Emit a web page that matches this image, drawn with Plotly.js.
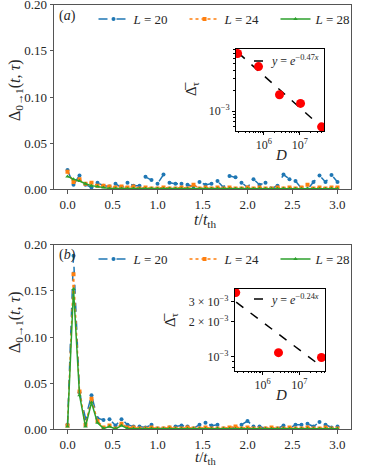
<!DOCTYPE html>
<html>
<head>
<meta charset="utf-8">
<script src="https://cdn.plot.ly/plotly-3.0.1.min.js"></script>
<style>
  html, body { margin: 0; padding: 0; background: white; }
  #plot { width: 374px; height: 467px; }
</style>
</head>
<body>
<div id="plot"></div>
<script>
// время t/t_th (шаг 1/15)
const t = [0, 0.0667, 0.1333, 0.2, 0.2667, 0.3333, 0.4, 0.4667, 0.5333, 0.6,
  0.6667, 0.7333, 0.8, 0.8667, 0.9333, 1.0, 1.0667, 1.1333, 1.2, 1.2667,
  1.3333, 1.4, 1.4667, 1.5333, 1.6, 1.6667, 1.7333, 1.8, 1.8667, 1.9333,
  2.0, 2.0667, 2.1333, 2.2, 2.2667, 2.3333, 2.4, 2.4667, 2.5333, 2.6,
  2.6667, 2.7333, 2.8, 2.8667, 2.9333, 3.0];

// панель (a)
const a_L20 = [0.021, 0.005, 0.015, 0.005, 0.002, 0.007, 0.004, 0.003, 0.006, 0.002,
  0.007, 0.004, 0.004, 0.0135, 0.010, 0.006, 0.016, 0.007, 0.006, 0.006,
  0.005, 0.003, 0.008, 0.005, 0.006, 0.009, 0.002, 0.0145, 0.013, 0.007,
  0.002, 0.011, 0.005, 0.007, 0.001, 0.004, 0.016, 0.011, 0.009, 0.001,
  0.000, 0.008, 0.015, 0.008, 0.0155, 0.008];
const a_L24 = [0.019, 0.008, 0.011, 0.006, 0.007, 0.004, 0.004, 0.003, 0.002, 0.003,
  0.002, 0.003, 0.001, 0.002, 0.001, 0.001, 0.002, 0.001, 0.001, 0.002,
  0.001, 0.005, 0.001, 0.002, 0.001, 0.002, 0.001, 0.002, 0.001, 0.001,
  0.002, 0.001, 0.002, 0.001, 0.001, 0.002, 0.001, 0.002, 0.001, 0.002,
  0.005, 0.001, 0.002, 0.001, 0.002, 0.002];
const a_L28 = [0.014, 0.011, 0.009, 0.006, 0.004, 0.003, 0.002, 0.001, 0.001, 0.001,
  0.0005, 0.001, 0.0005, 0.0005, 0.001, 0.0005, 0.0005, 0.001, 0.0005, 0.0005,
  0.0005, 0.001, 0.0005, 0.0005, 0.0005, 0.001, 0.0005, 0.0005, 0.0005, 0.001,
  0.0005, 0.0005, 0.001, 0.0005, 0.0005, 0.0005, 0.001, 0.0005, 0.0005, 0.0005,
  0.001, 0.0005, 0.0005, 0.0005, 0.001, 0.0005];

// панель (b)
const b_L20 = [0.005, 0.188, 0.040, 0.012, 0.037, 0.012, 0.010, 0.011, 0.004, 0.011,
  0.005, 0.003, 0.003, 0.002, 0.005, 0.001, 0.001, 0.002, 0.003, 0.004,
  0.003, 0.001, 0.005, 0.007, 0.004, 0.005, 0.001, 0.001, 0.002, 0.005,
  0.009, 0.003, 0.003, 0.001, 0.001, 0.001, 0.004, 0.001, 0.005, 0.005,
  0.006, 0.003, 0.008, 0.005, 0.002, 0.003];
const b_L24 = [0.004, 0.168, 0.041, 0.005, 0.033, 0.009, 0.002, 0.004, 0.001, 0.006,
  0.002, 0.002, 0.001, 0.001, 0.002, 0.001, 0.001, 0.002, 0.001, 0.001,
  0.002, 0.001, 0.001, 0.002, 0.001, 0.001, 0.001, 0.002, 0.003, 0.001,
  0.002, 0.001, 0.001, 0.001, 0.002, 0.001, 0.001, 0.002, 0.001, 0.001,
  0.002, 0.001, 0.001, 0.002, 0.001, 0.001];
const b_L28 = [0.003, 0.152, 0.037, 0.003, 0.029, 0.007, 0.001, 0.003, 0.0005, 0.004,
  0.001, 0.001, 0.0005, 0.0005, 0.001, 0.0005, 0.0005, 0.001, 0.0005, 0.0005,
  0.0005, 0.001, 0.0005, 0.0005, 0.0005, 0.001, 0.0005, 0.0005, 0.0005, 0.001,
  0.0005, 0.0005, 0.001, 0.0005, 0.0005, 0.0005, 0.001, 0.0005, 0.0005, 0.0005,
  0.001, 0.0005, 0.0005, 0.0005, 0.001, 0.0005];

// вставки: D и средняя Δ
const insetA_D = [184756, 705432, 2704156, 10400600, 40116600];
const insetA_val = [7.0e-3, 4.5e-3, 1.74e-3, 1.30e-3, 5.9e-4];
const fitA_D = [190000, 38000000];
const fitA_val = [7.2e-3, 6.0e-4];

const insetB_D = [184756, 2704156, 40116600];
const insetB_val = [3.6e-3, 1.08e-3, 0.98e-3];
const fitB_D = [190000, 38000000];
const fitB_val = [2.97e-3, 8.3e-4];

const labels = ['<i>L</i> = 20', '<i>L</i> = 24', '<i>L</i> = 28'];
const colors = ['#1f77b4', '#ff7f0e', '#2ca02c'];
const dashes = ['dash', 'dot', 'solid'];
const symbols = ['circle', 'square', 'triangle-up'];

const serif = "'Liberation Serif', 'DejaVu Serif', serif";
const txt = '#262626';

const mainTrace = (y, i, xa, ya, lg) => ({
  x: t, y: y, xaxis: xa, yaxis: ya, legend: lg,
  name: labels[i], mode: 'lines+markers', type: 'scatter',
  line: { color: colors[i], width: 1.5, dash: dashes[i] },
  marker: { color: colors[i], size: 4, symbol: symbols[i] }
});

const data = [
  mainTrace(a_L20, 0, 'x', 'y', 'legend'),
  mainTrace(a_L24, 1, 'x', 'y', 'legend'),
  mainTrace(a_L28, 2, 'x', 'y', 'legend'),
  mainTrace(b_L20, 0, 'x2', 'y2', 'legend2'),
  mainTrace(b_L24, 1, 'x2', 'y2', 'legend2'),
  mainTrace(b_L28, 2, 'x2', 'y2', 'legend2'),
  { x: fitA_D, y: fitA_val, xaxis: 'x3', yaxis: 'y3', mode: 'lines', showlegend: false,
    line: { color: 'black', width: 1.5, dash: 'dash' } },
  { x: insetA_D, y: insetA_val, xaxis: 'x3', yaxis: 'y3', mode: 'markers', showlegend: false,
    marker: { color: '#ff0000', size: 9 } },
  { x: fitB_D, y: fitB_val, xaxis: 'x4', yaxis: 'y4', mode: 'lines', showlegend: false,
    line: { color: 'black', width: 1.5, dash: 'dash' } },
  { x: insetB_D, y: insetB_val, xaxis: 'x4', yaxis: 'y4', mode: 'markers', showlegend: false,
    marker: { color: '#ff0000', size: 9 } }
];

// минорные деления логарифмических осей
const minorD = [];
for (let e = 5; e <= 7; e++) for (let m = 2; m <= 9; m++) minorD.push(m * Math.pow(10, e));
const minorA = [];
for (let e = -4; e <= -3; e++) for (let m = 2; m <= 9; m++) minorA.push(m * Math.pow(10, e));

const mainX = (anchor) => ({
  domain: [0.1444, 0.9385], anchor: anchor, range: [-0.15, 3.15],
  tickvals: [0, 0.5, 1, 1.5, 2, 2.5, 3], tickformat: '.1f', ticklabeloverflow: 'allow',
  ticks: 'outside', ticklen: 3.5, tickcolor: '#555', showgrid: false, zeroline: false,
  showline: true, mirror: true, linecolor: '#555', linewidth: 1,
  tickfont: { family: serif, size: 13, color: txt }
});
const mainY = (dom, anchor) => ({
  domain: dom, anchor: anchor, range: [0, 0.2], dtick: 0.05, tickformat: '.2f',
  ticklabeloverflow: 'allow',
  ticks: 'outside', ticklen: 3.5, tickcolor: '#555', showgrid: false, zeroline: false,
  showline: true, mirror: true, linecolor: '#555', linewidth: 1,
  tickfont: { family: serif, size: 13, color: txt }
});
const insetX = (dom, anchor, rng) => ({
  domain: dom, anchor: anchor, type: 'log', range: rng, ticklabeloverflow: 'allow',
  tickvals: [1e6, 1e7], ticktext: ['10<sup>6</sup>', '10<sup>7</sup>'],
  ticks: 'outside', ticklen: 3, tickcolor: 'black', showgrid: false, zeroline: false,
  showline: true, mirror: true, linecolor: 'black', linewidth: 1,
  minor: { tickvals: minorD, ticks: 'outside', ticklen: 1.5, tickcolor: 'black', showgrid: false },
  tickfont: { family: serif, size: 12, color: txt }
});
const insetY = (dom, anchor, rng, vals, texts) => ({
  domain: dom, anchor: anchor, type: 'log', range: rng, ticklabeloverflow: 'allow',
  tickvals: vals, ticktext: texts,
  ticks: 'outside', ticklen: 3, tickcolor: 'black', showgrid: false, zeroline: false,
  showline: true, mirror: true, linecolor: 'black', linewidth: 1,
  minor: { tickvals: minorA, ticks: 'outside', ticklen: 1.5, tickcolor: 'black', showgrid: false },
  tickfont: { family: serif, size: 12, color: txt }
});

const legendBase = (y) => ({
  orientation: 'h', x: 0.25, xanchor: 'left', y: y, yanchor: 'middle',
  bgcolor: 'rgba(0,0,0,0)', entrywidth: 46, entrywidthmode: 'pixels',
  font: { family: serif, size: 13, color: txt }, itemwidth: 30
});

const px = (x) => x / 374;
const py = (y) => 1 - y / 467;
const note = (text, x, y, size, angle) => ({
  text: text, xref: 'paper', yref: 'paper', x: px(x), y: py(y),
  xanchor: 'center', yanchor: 'middle', showarrow: false, textangle: angle || 0,
  font: { family: serif, size: size, color: txt }
});
const corner = (text, x, y, size) => Object.assign(note(text, x, y, size), { xanchor: 'left' });

const xTitle = '<i>t</i>/<i>t</i><sub>th</sub>';
const yTitle = 'Δ<sub>0→1</sub>(<i>t</i>, <i>τ</i>)';
const insetYTitle = 'Δ̅<sub>τ</sub>';

const layout = {
  width: 374, height: 467,
  margin: { l: 0, r: 0, t: 0, b: 0 },
  paper_bgcolor: 'white', plot_bgcolor: 'white',
  xaxis: mainX('y'),
  yaxis: mainY([0.5946, 0.990], 'x'),
  xaxis2: mainX('y2'),
  yaxis2: mainY([0.0807, 0.476], 'x2'),
  xaxis3: insetX([0.631, 0.866], 'y3', [5.222, 7.667]),
  yaxis3: insetY([0.7195, 0.895], 'x3', [-3.29, -2.09], [1e-3], ['10<sup>−3</sup>']),
  xaxis4: insetX([0.628, 0.869], 'y4', [5.243, 7.70]),
  yaxis4: insetY([0.2056, 0.381], 'x4', [-3.126, -2.413], [1e-3, 2e-3, 3e-3],
    ['10<sup>−3</sup>', '2 × 10<sup>−3</sup>', '3 × 10<sup>−3</sup>']),
  legend: legendBase(py(19)),
  legend2: legendBase(py(259)),
  annotations: [
    corner('(<i>a</i>)', 57, 16, 14),
    corner('(<i>b</i>)', 57, 255, 14),
    note(xTitle, 205, 220, 16),
    note(xTitle, 205, 458, 15),
    note(yTitle, 15, 90, 16, -90),
    note(yTitle, 15, 322, 16, -90),
    note('<i>D</i>', 281, 155, 15),
    note('<i>D</i>', 281, 395, 15),
    note(insetYTitle, 192, 89, 15, -90),
    note(insetYTitle, 171, 320, 15, -90),
    corner('<i>y</i> = <i>e</i><sup>−0.47<i>x</i></sup>', 269, 61, 12),
    corner('<i>y</i> = <i>e</i><sup>−0.24<i>x</i></sup>', 269, 299, 12)
  ],
  // короткие штрихи легенды во вставках
  shapes: [
    { type: 'line', xref: 'paper', yref: 'paper', x0: px(254), x1: px(263),
      y0: py(61), y1: py(61), line: { color: 'black', width: 1.5, dash: 'dash' } },
    { type: 'line', xref: 'paper', yref: 'paper', x0: px(254), x1: px(263),
      y0: py(299), y1: py(299), line: { color: 'black', width: 1.5, dash: 'dash' } }
  ]
};

Plotly.newPlot('plot', data, layout, { displayModeBar: false, staticPlot: true });
</script>
</body>
</html>
